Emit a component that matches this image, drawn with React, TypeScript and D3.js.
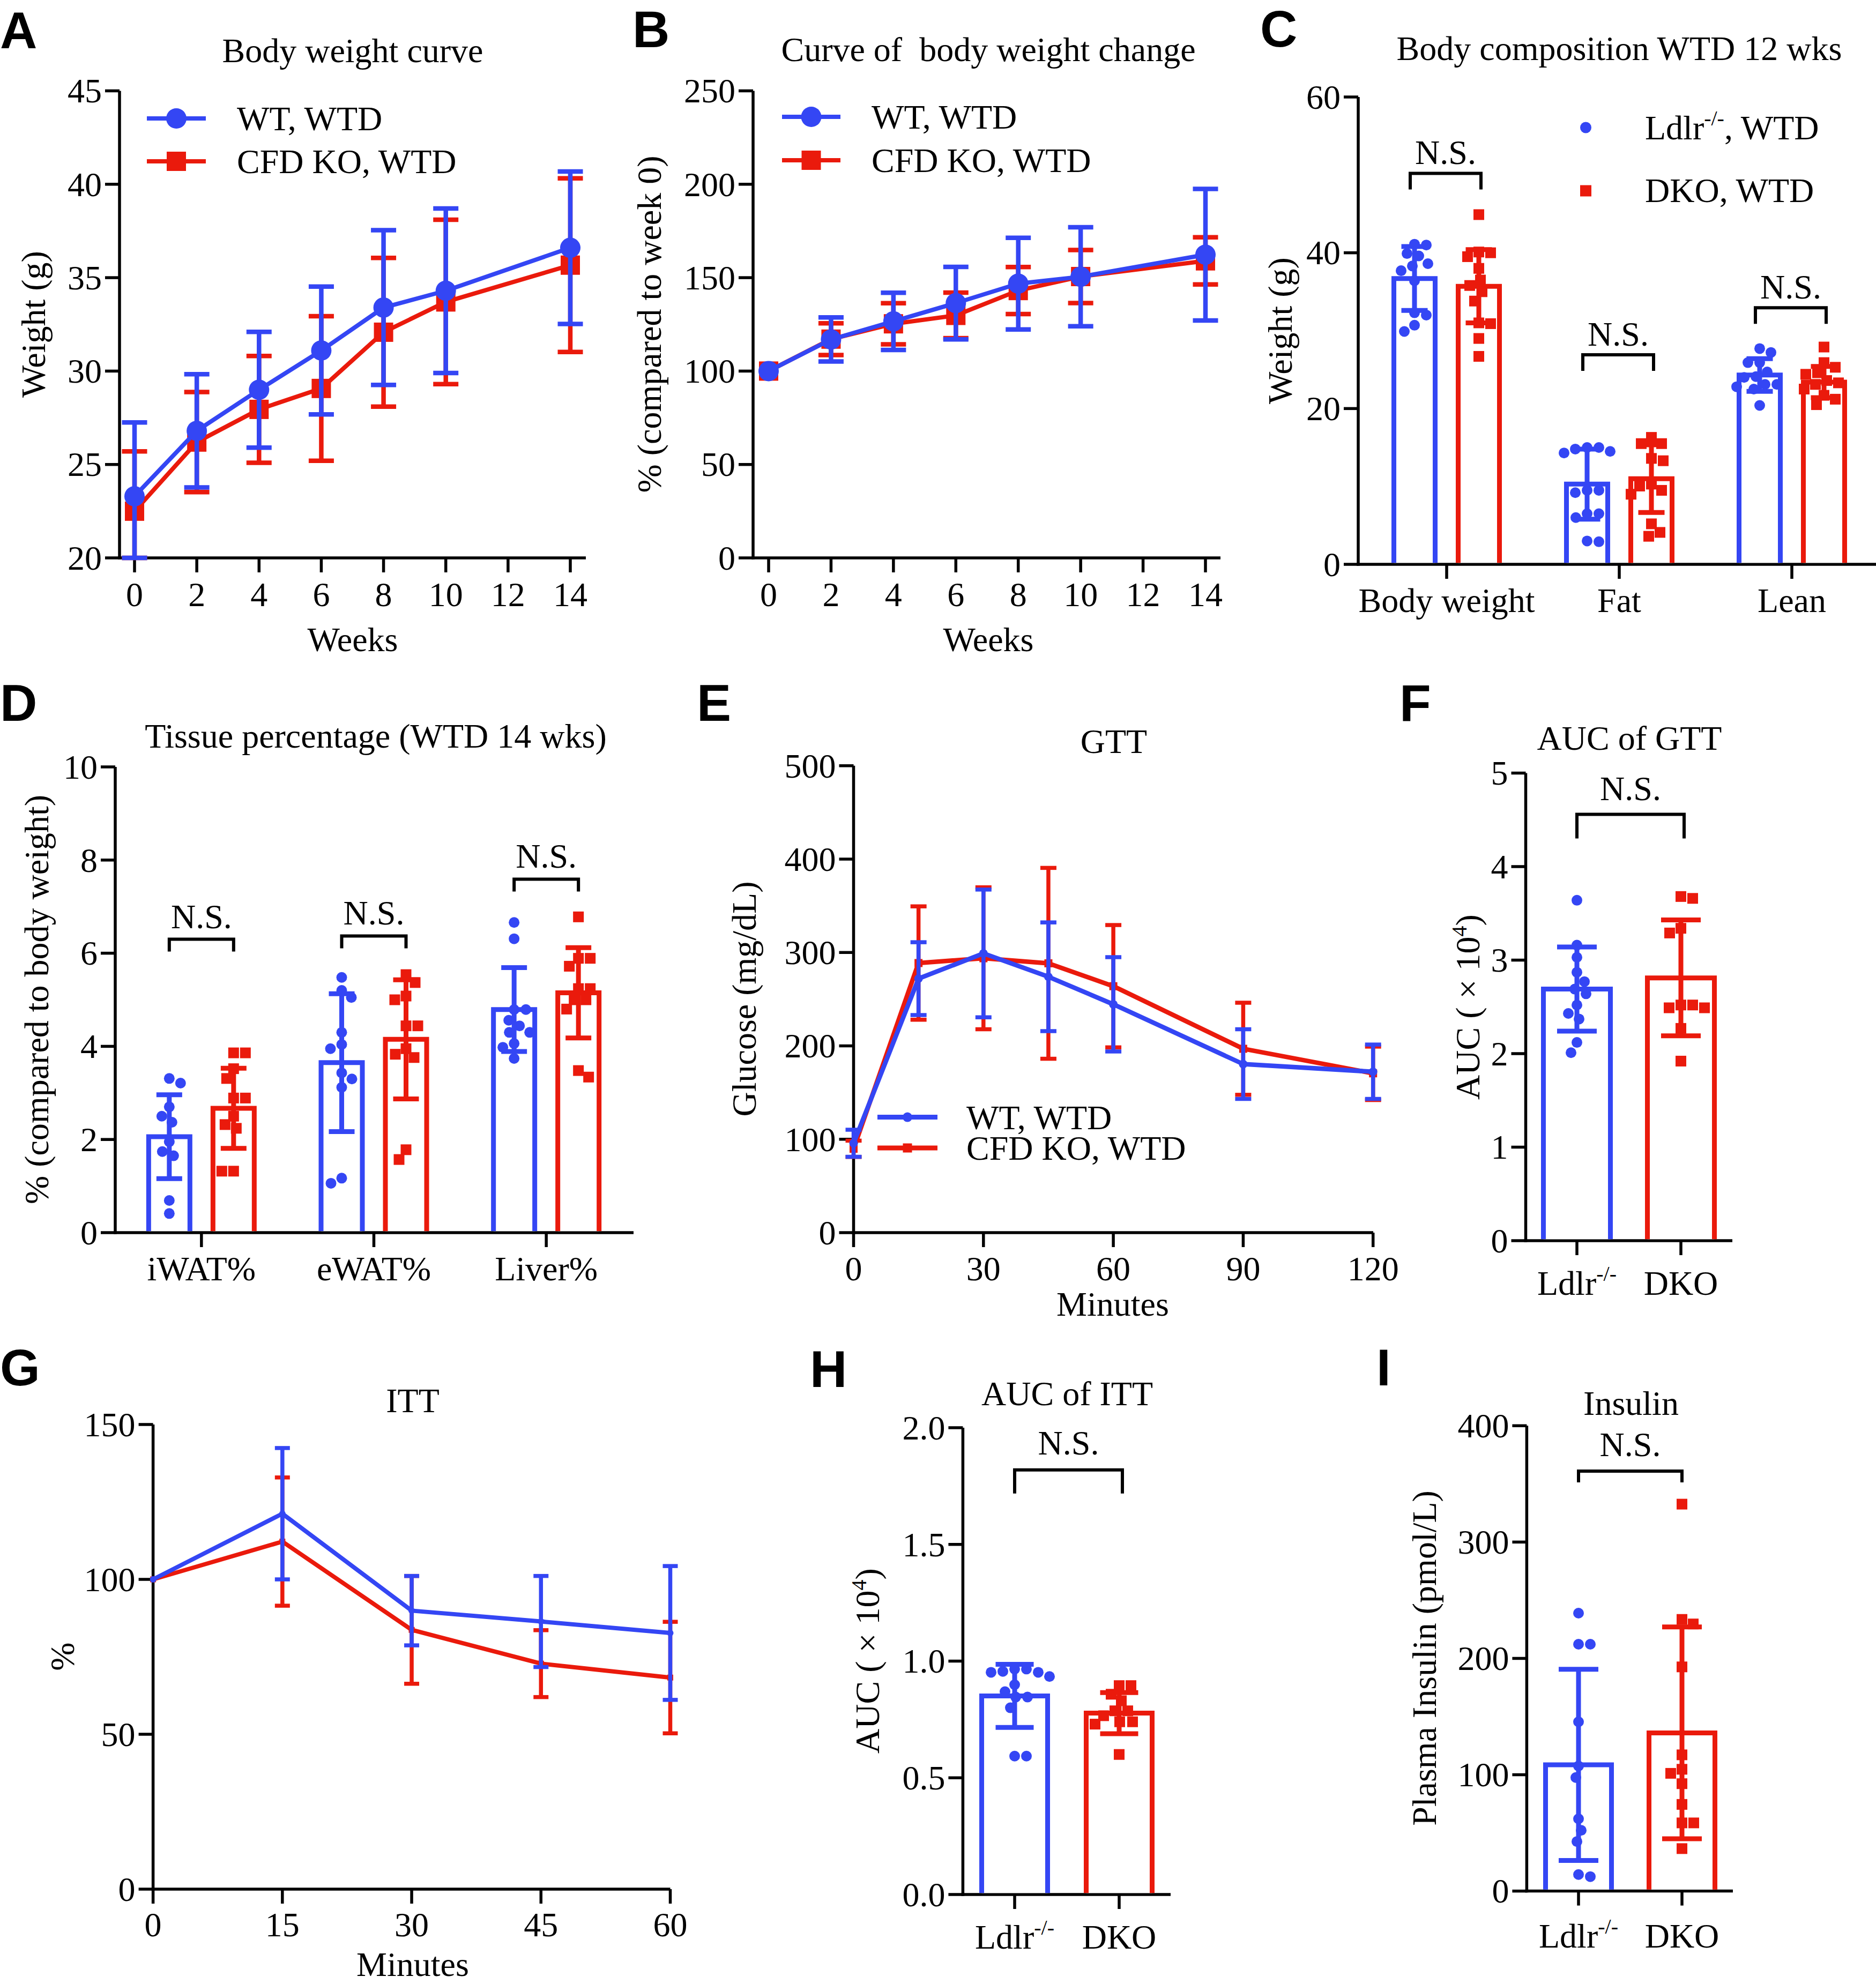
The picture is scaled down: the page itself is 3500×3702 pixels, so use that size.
import React from "react";
import * as d3 from "d3";

const BLUE = "#3446f4";
const RED = "#ea1a0c";
const SERIF = "'Liberation Serif','Times New Roman',Times,serif";
const SANS = "'Liberation Sans',Arial,Helvetica,sans-serif";
const FS = 64;
const AW = 5.5;
const TL = 27;

// ---------------- DATA ----------------
// A: body weight curve
const weeks = [0, 2, 4, 6, 8, 10, 14];
const weekTicks = [0, 2, 4, 6, 8, 10, 12, 14];
const bwWT = [23.3, 26.8, 29.0, 31.1, 33.4, 34.3, 36.6];
const bwWTsd = [3.95, 3.03, 3.1, 3.42, 4.14, 4.4, 4.08];
const bwKO = [22.5, 26.2, 27.95, 29.07, 32.08, 33.7, 35.67];
const bwKOsd = [3.2, 2.68, 2.86, 3.87, 3.98, 4.4, 4.65];
const bwTicks = [20, 25, 30, 35, 40, 45];

// B: % change
const pctWT = [100, 116.9, 126.6, 136.4, 146.8, 150.5, 162.3];
const pctWTsd = [0, 11.8, 15.3, 19.4, 24.5, 26.5, 35.2];
const pctKO = [100, 117.1, 125.3, 129.8, 143.1, 150.6, 159.0];
const pctKOsd = [0, 8.5, 11.0, 12.2, 12.6, 14.2, 12.6];
const pctTicks = [0, 50, 100, 150, 200, 250];

// C: body composition
const compCats = ["Body weight", "Fat", "Lean"];
const compLdlrMean = [36.7, 10.3, 24.3];
const compLdlrSD = [4.1, 4.5, 2.1];
const compDKOMean = [35.7, 11.0, 23.4];
const compDKOSD = [4.7, 4.35, 2.0];
const compLdlrBW = [41.1, 41.0, 39.9, 39.6, 38.6, 38.3, 37.7, 36.4, 32.3, 32.0, 30.7, 29.9];
const compDKOBW = [44.9, 40.1, 40.0, 39.5, 38.0, 36.5, 35.8, 35.0, 33.8, 31.0, 30.9, 29.0, 26.7];
const compLdlrFat = [15.0, 14.8, 15.0, 14.5, 14.3, 9.5, 9.2, 9.5, 6.5, 6.5, 6.0, 2.9, 3.0];
const compDKOFat = [16.3, 15.5, 15.5, 13.6, 13.3, 10.3, 10.05, 9.5, 9.0, 5.2, 4.1, 3.6];
const compLdlrLean = [27.7, 27.2, 25.9, 25.9, 24.7, 24.1, 24.0, 23.1, 23.1, 22.8, 22.5, 20.4];
const compDKOLean = [27.9, 25.9, 25.3, 24.6, 24.4, 23.6, 23.3, 23.1, 22.5, 21.7, 21.2, 20.5];
const compTicks = [0, 20, 40, 60];
const compBracketLevel = [50.2, 26.9, 32.95];

// D: tissue percentage
const tisCats = ["iWAT%", "eWAT%", "Liver%"];
const tisLdlrMean = [2.06, 3.65, 4.79];
const tisLdlrSD = [0.9, 1.48, 0.9];
const tisDKOMean = [2.67, 4.15, 5.15];
const tisDKOSD = [0.86, 1.28, 0.97];
const tisLdlrI = [3.31, 3.21, 2.7, 2.5, 2.37, 1.95, 1.74, 1.65, 0.69, 0.41];
const tisDKOI = [3.86, 3.86, 3.52, 3.31, 2.89, 2.89, 2.5, 2.32, 2.24, 1.32, 1.32];
const tisLdlrE = [5.48, 5.2, 5.05, 4.3, 4.04, 3.95, 3.43, 3.3, 3.12, 1.17, 1.06];
const tisDKOE = [5.54, 5.37, 5.08, 5.0, 4.44, 4.44, 3.95, 3.83, 3.76, 1.78, 1.57];
const tisLdlrL = [6.66, 6.31, 4.79, 4.79, 4.56, 4.44, 4.3, 4.3, 4.06, 3.98, 3.74];
const tisDKOL = [6.78, 5.89, 5.89, 5.72, 5.24, 5.24, 5.0, 5.0, 4.8, 3.48, 3.34];
const tisTicks = [0, 2, 4, 6, 8, 10];
const tisBracketLevel = [6.3, 6.37, 7.59];

// E: GTT
const gttMin = [0, 15, 30, 45, 60, 90, 120];
const gttXTicks = [0, 30, 60, 90, 120];
const gttWT = [95.7, 272, 299, 274, 244.5, 180.5, 172.3];
const gttWTsd = [14.5, 39, 68.4, 58.2, 50.5, 37.3, 29.1];
const gttKO = [89.8, 288.7, 293.8, 288.4, 263.9, 196.9, 170.6];
const gttKOsd = [8.7, 60.7, 76, 102.2, 65.5, 49.3, 28.6];
const gttTicks = [0, 100, 200, 300, 400, 500];

// F: AUC of GTT
const aucGttMean = [2.69, 2.81];
const aucGttSD = [0.45, 0.62];
const aucGttLdlr = [3.64, 3.16, 3.03, 2.87, 2.77, 2.69, 2.64, 2.52, 2.43, 2.37, 2.12, 2.01];
const aucGttDKO = [3.66, 3.68, 3.34, 3.29, 2.52, 2.49, 2.49, 2.52, 2.27, 1.92];
const aucGttTicks = [0, 1, 2, 3, 4, 5];

// G: ITT
const ittMin = [0, 15, 30, 45, 60];
const ittWT = [100, 121.2, 89.9, 86.4, 82.7];
const ittWTsd = [0, 21.2, 11.2, 14.7, 21.6];
const ittKO = [100, 112.2, 83.7, 72.8, 68.3];
const ittKOsd = [0, 20.7, 17.4, 10.8, 18.0];
const ittTicks = [0, 50, 100, 150];

// H: AUC of ITT
const aucIttMean = [0.851, 0.777];
const aucIttSD = [0.135, 0.088];
const aucIttLdlr = [0.966, 0.966, 0.952, 0.952, 0.956, 0.934, 0.899, 0.869, 0.846, 0.846, 0.8, 0.593, 0.593];
const aucIttDKO = [0.895, 0.895, 0.858, 0.83, 0.787, 0.787, 0.766, 0.74, 0.74, 0.73, 0.6];
const aucIttTicks = [0, 0.5, 1.0, 1.5, 2.0];

// I: insulin
const insMean = [108.5, 136];
const insSD = [82.2, 91];
const insLdlr = [238.9, 212.2, 212.2, 145.5, 107.5, 97.6, 62.1, 52.2, 42.6, 12.4, 14.2];
const insDKO = [332.6, 233.5, 229.6, 192.7, 117.1, 104.7, 101.2, 92.3, 74.5, 58.6, 58.6, 36.5];
const insTicks = [0, 100, 200, 300, 400];

// ---------------- helpers ----------------
type Lin = d3.ScaleLinear<number, number>;

function swarm(vals: number[], y: (v: number) => number, r: number): number[] {
  const order = vals.map((_, i) => i).sort((a, b) => vals[b] - vals[a]);
  const placed: [number, number][] = [];
  const dx = new Array(vals.length).fill(0);
  const minD = 2 * r + 2;
  let side = 1;
  for (const i of order) {
    const py = y(vals[i]);
    let found = 0;
    for (let k = 0; k < 400; k++) {
      const cands = k === 0 ? [0] : [side * k, -side * k];
      let ok: number | null = null;
      for (const c of cands) {
        if (placed.every(([qx, qy]) => (qx - c) ** 2 + (qy - py) ** 2 >= minD * minD)) {
          ok = c;
          break;
        }
      }
      if (ok !== null) {
        found = ok;
        break;
      }
    }
    if (found !== 0) side = -Math.sign(found);
    placed.push([found, py]);
    dx[i] = found;
  }
  return dx;
}

function Marker({ kind, cx, cy, r, sq, color }: any) {
  return kind === "circle" ? (
    <circle cx={cx} cy={cy} r={r} fill={color} />
  ) : (
    <rect x={cx - sq / 2} y={cy - sq / 2} width={sq} height={sq} fill={color} />
  );
}

function YAxis({ ax, y, ticks, fmt }: { ax: number; y: Lin; ticks: number[]; fmt?: (v: number) => string }) {
  const [b, t] = y.range();
  const f = fmt || ((v: number) => String(v));
  return (
    <g>
      <line x1={ax} x2={ax} y1={b + AW / 2} y2={t} stroke="#000" strokeWidth={AW} />
      {ticks.map((v) => (
        <line key={"t" + v} x1={ax - TL} x2={ax} y1={y(v)} y2={y(v)} stroke="#000" strokeWidth={AW} />
      ))}
      {ticks.map((v) => (
        <text key={"l" + v} x={ax - TL - 6} y={y(v)} dy="0.34em" textAnchor="end" fontSize={FS}>
          {f(v)}
        </text>
      ))}
    </g>
  );
}

function XAxis({ ax, xEnd, y0, pos, labels, labelY }: any) {
  return (
    <g>
      <line x1={ax - AW / 2} x2={xEnd} y1={y0} y2={y0} stroke="#000" strokeWidth={AW} />
      {pos.map((p: number, i: number) => (
        <line key={"t" + i} x1={p} x2={p} y1={y0} y2={y0 + TL} stroke="#000" strokeWidth={AW} />
      ))}
      {pos.map((p: number, i: number) => (
        <text key={"l" + i} x={p} y={labelY} textAnchor="middle" fontSize={FS}>
          {labels[i]}
        </text>
      ))}
    </g>
  );
}

function YLabel({ xb, yc, children }: any) {
  return (
    <text transform={`translate(${xb},${yc}) rotate(-90)`} textAnchor="middle" fontSize={FS}>
      {children}
    </text>
  );
}

function Title({ x, y, children }: any) {
  return (
    <text x={x} y={y} textAnchor="middle" fontSize={FS} style={{ whiteSpace: "pre" }}>
      {children}
    </text>
  );
}

function Letter({ x, y, t }: any) {
  return (
    <text x={x} y={y} fontFamily={SANS} fontWeight="bold" fontSize={96}>
      {t}
    </text>
  );
}

function LineSeries({ xs, mean, sd, color, marker, x, y, lineW, errW, capW, r, sq }: any) {
  const yMin = y.domain()[0];
  const pts: [number, number][] = xs.map((t: number, i: number) => [x(t), y(mean[i])]);
  const path = d3.line()(pts) || "";
  return (
    <g>
      {xs.map((t: number, i: number) => {
        if (!(sd[i] > 0)) return null;
        const cx = x(t);
        const hi = y(mean[i] + sd[i]);
        const lo = y(Math.max(mean[i] - sd[i], yMin));
        return (
          <g key={i} stroke={color} strokeWidth={errW}>
            <line x1={cx} x2={cx} y1={hi} y2={lo} />
            <line x1={cx - capW / 2} x2={cx + capW / 2} y1={hi} y2={hi} />
            <line x1={cx - capW / 2} x2={cx + capW / 2} y1={lo} y2={lo} />
          </g>
        );
      })}
      <path d={path} fill="none" stroke={color} strokeWidth={lineW} strokeLinejoin="round" />
      {pts.map(([px, py], i) => (
        <Marker key={i} kind={marker} cx={px} cy={py} r={r} sq={sq} color={color} />
      ))}
    </g>
  );
}

function LineLegend({ x1, x2, ys, textX, items, lineW, r, sq }: any) {
  const mx = (x1 + x2) / 2;
  return (
    <g>
      {items.map((it: any, i: number) => (
        <g key={i}>
          <line x1={x1} x2={x2} y1={ys[i]} y2={ys[i]} stroke={it.color} strokeWidth={lineW} />
          <Marker kind={it.marker} cx={mx} cy={ys[i]} r={r} sq={sq} color={it.color} />
          <text x={textX} y={ys[i] + 22} fontSize={FS}>
            {it.label}
          </text>
        </g>
      ))}
    </g>
  );
}

function BarGroup({ cx, mean, sd, pts, color, marker, y, barW, capW, r, sq }: any) {
  const y0 = y(0) - AW / 2;
  const top = y(mean);
  const dx = swarm(pts, y, r);
  const hi = y(mean + sd);
  const lo = y(mean - sd);
  return (
    <g>
      <path
        d={`M${cx - barW / 2},${y0}V${top}H${cx + barW / 2}V${y0}`}
        fill="#fff"
        stroke={color}
        strokeWidth={9}
      />
      {pts.map((v: number, i: number) => (
        <Marker key={i} kind={marker} cx={cx + dx[i]} cy={y(v)} r={r} sq={sq} color={color} />
      ))}
      <g stroke={color} strokeWidth={9}>
        <line x1={cx} x2={cx} y1={hi} y2={lo} />
        <line x1={cx - capW / 2} x2={cx + capW / 2} y1={hi} y2={hi} />
        <line x1={cx - capW / 2} x2={cx + capW / 2} y1={lo} y2={lo} />
      </g>
    </g>
  );
}

function Bracket({ x1, x2, yb, leg, gap }: any) {
  return (
    <g>
      <path d={`M${x1},${yb + leg}V${yb}H${x2}V${yb + leg}`} fill="none" stroke="#000" strokeWidth={6} />
      <text x={(x1 + x2) / 2} y={yb - gap} textAnchor="middle" fontSize={FS}>
        N.S.
      </text>
    </g>
  );
}

const Ldlr = ({ suffix }: { suffix?: string }) => (
  <>
    Ldlr
    <tspan dy={-26} fontSize={40}>
      -/-
    </tspan>
    {suffix ? (
      <tspan dy={26} fontSize={FS}>
        {suffix}
      </tspan>
    ) : null}
  </>
);

const AucLabel = () => (
  <>
    AUC ( × 10
    <tspan dy={-24} fontSize={40}>
      4
    </tspan>
    <tspan dy={24}>)</tspan>
  </>
);

const lineItems = [
  { label: "WT, WTD", color: BLUE, marker: "circle" },
  { label: "CFD KO, WTD", color: RED, marker: "square" },
];

// ---------------- panels ----------------
function PanelA() {
  const x = d3.scaleLinear().domain([0, 14]).range([251, 1064]);
  const y = d3.scaleLinear().domain([20, 45]).range([1041, 169.5]);
  const common = { x, y, lineW: 8, errW: 8.5, capW: 47, r: 19, sq: 36 };
  return (
    <g>
      <Letter x={0} y={90} t="A" />
      <Title x={658} y={116}>Body weight curve</Title>
      <YAxis ax={223} y={y} ticks={bwTicks} />
      <XAxis ax={223} xEnd={1093} y0={1041} pos={weekTicks.map((t) => x(t))} labels={weekTicks} labelY={1131} />
      <LineSeries xs={weeks} mean={bwKO} sd={bwKOsd} color={RED} marker="square" {...common} />
      <LineSeries xs={weeks} mean={bwWT} sd={bwWTsd} color={BLUE} marker="circle" {...common} />
      <LineLegend x1={274} x2={384} ys={[221, 301]} textX={442} items={lineItems} lineW={8} r={19} sq={36} />
      <Title x={658} y={1215}>Weeks</Title>
      <YLabel xb={84} yc={605}>Weight (g)</YLabel>
    </g>
  );
}

function PanelB() {
  const x = d3.scaleLinear().domain([0, 14]).range([1434, 2249]);
  const y = d3.scaleLinear().domain([0, 250]).range([1041, 169.5]);
  const common = { x, y, lineW: 8, errW: 8.5, capW: 47, r: 19, sq: 36 };
  return (
    <g>
      <Letter x={1180} y={88} t="B" />
      <Title x={1844} y={114}>{"Curve of  body weight change"}</Title>
      <YAxis ax={1405} y={y} ticks={pctTicks} />
      <XAxis ax={1405} xEnd={2277} y0={1041} pos={weekTicks.map((t) => x(t))} labels={weekTicks} labelY={1131} />
      <LineSeries xs={weeks} mean={pctKO} sd={pctKOsd} color={RED} marker="square" {...common} />
      <LineSeries xs={weeks} mean={pctWT} sd={pctWTsd} color={BLUE} marker="circle" {...common} />
      <LineLegend x1={1459} x2={1568} ys={[218, 299]} textX={1626} items={lineItems} lineW={8} r={19} sq={36} />
      <Title x={1844} y={1215}>Weeks</Title>
      <YLabel xb={1233} yc={605}>% (compared to week 0)</YLabel>
    </g>
  );
}

function PanelC() {
  const y = d3.scaleLinear().domain([0, 60]).range([1053, 181]);
  const band = d3.scaleBand<string>().domain(compCats).range([2538, 3504]);
  const cc = (c: string) => (band(c) || 0) + band.bandwidth() / 2;
  const off = d3.scaleOrdinal<string, number>().domain(["Ldlr", "DKO"]).range([-60, 60]);
  const ldlrPts = [compLdlrBW, compLdlrFat, compLdlrLean];
  const dkoPts = [compDKOBW, compDKOFat, compDKOLean];
  const common = { y, barW: 77, capW: 49, r: 10, sq: 20 };
  return (
    <g>
      <Letter x={2351} y={87} t="C" />
      <Title x={3021} y={112}>Body composition WTD 12 wks</Title>
      <YAxis ax={2534} y={y} ticks={compTicks} />
      <XAxis ax={2534} xEnd={3500} y0={1053} pos={compCats.map(cc)} labels={compCats} labelY={1142} />
      {compCats.map((c, i) => (
        <g key={c}>
          <BarGroup cx={cc(c) + off("Ldlr")} mean={compLdlrMean[i]} sd={compLdlrSD[i]} pts={ldlrPts[i]} color={BLUE} marker="circle" {...common} />
          <BarGroup cx={cc(c) + off("DKO")} mean={compDKOMean[i]} sd={compDKOSD[i]} pts={dkoPts[i]} color={RED} marker="square" {...common} />
          <Bracket x1={cc(c) + off("Ldlr") - 8} x2={cc(c) + off("DKO") + 4} yb={y(compBracketLevel[i])} leg={30} gap={17} />
        </g>
      ))}
      <circle cx={2958.5} cy={238} r={10.5} fill={BLUE} />
      <rect x={2948} y={345.5} width={21} height={21} fill={RED} />
      <text x={3069} y={260} fontSize={FS}>
        <Ldlr suffix=", WTD" />
      </text>
      <text x={3069} y={377} fontSize={FS}>
        DKO, WTD
      </text>
      <YLabel xb={2410} yc={617}>Weight (g)</YLabel>
    </g>
  );
}

function PanelD() {
  const y = d3.scaleLinear().domain([0, 10]).range([2300, 1431]);
  const band = d3.scaleBand<string>().domain(tisCats).range([215, 1180]);
  const cc = (c: string) => (band(c) || 0) + band.bandwidth() / 2;
  const off = d3.scaleOrdinal<string, number>().domain(["Ldlr", "DKO"]).range([-60, 60]);
  const ldlrPts = [tisLdlrI, tisLdlrE, tisLdlrL];
  const dkoPts = [tisDKOI, tisDKOE, tisDKOL];
  const common = { y, barW: 77, capW: 48, r: 10, sq: 20 };
  return (
    <g>
      <Letter x={0} y={1345} t="D" />
      <Title x={701} y={1395}>Tissue percentage (WTD 14 wks)</Title>
      <YAxis ax={215} y={y} ticks={tisTicks} />
      <XAxis ax={215} xEnd={1182} y0={2300} pos={tisCats.map(cc)} labels={tisCats} labelY={2389} />
      {tisCats.map((c, i) => (
        <g key={c}>
          <BarGroup cx={cc(c) + off("Ldlr")} mean={tisLdlrMean[i]} sd={tisLdlrSD[i]} pts={ldlrPts[i]} color={BLUE} marker="circle" {...common} />
          <BarGroup cx={cc(c) + off("DKO")} mean={tisDKOMean[i]} sd={tisDKOSD[i]} pts={dkoPts[i]} color={RED} marker="square" {...common} />
          <Bracket x1={cc(c) + off("Ldlr")} x2={cc(c) + off("DKO")} yb={y(tisBracketLevel[i])} leg={23} gap={21} />
        </g>
      ))}
      <YLabel xb={90} yc={1865}>% (compared to body weight)</YLabel>
    </g>
  );
}

function PanelE() {
  const x = d3.scaleLinear().domain([0, 120]).range([1592.5, 2561.7]);
  const y = d3.scaleLinear().domain([0, 500]).range([2300, 1428.8]);
  const common = { x, y, lineW: 8.5, errW: 7.5, capW: 30, r: 8, sq: 15 };
  return (
    <g>
      <Letter x={1300} y={1345} t="E" />
      <Title x={2078} y={1405}>GTT</Title>
      <YAxis ax={1592.5} y={y} ticks={gttTicks} />
      <XAxis ax={1592.5} xEnd={2562} y0={2300} pos={gttXTicks.map((t) => x(t))} labels={gttXTicks} labelY={2389} />
      <LineSeries xs={gttMin} mean={gttKO} sd={gttKOsd} color={RED} marker="square" {...common} />
      <LineSeries xs={gttMin} mean={gttWT} sd={gttWTsd} color={BLUE} marker="circle" {...common} />
      <LineLegend x1={1637} x2={1749} ys={[2084.6, 2142]} textX={1803} items={lineItems} lineW={9} r={9} sq={17} />
      <Title x={2076} y={2455}>Minutes</Title>
      <YLabel xb={1410} yc={1864}>Glucose (mg/dL)</YLabel>
    </g>
  );
}

function PanelF() {
  const y = d3.scaleLinear().domain([0, 5]).range([2315, 1442.5]);
  const x = d3.scalePoint<string>().domain(["Ldlr", "DKO"]).range([2942, 3136]);
  const common = { y, barW: 125, capW: 74, r: 10, sq: 20 };
  return (
    <g>
      <Letter x={2611} y={1345} t="F" />
      <Title x={3040} y={1399}>AUC of GTT</Title>
      <YAxis ax={2846.5} y={y} ticks={aucGttTicks} />
      <XAxis ax={2846.5} xEnd={3232} y0={2315} pos={[x("Ldlr"), x("DKO")]} labels={[<Ldlr key="l" />, "DKO"]} labelY={2416} />
      <BarGroup cx={x("Ldlr")} mean={aucGttMean[0]} sd={aucGttSD[0]} pts={aucGttLdlr} color={BLUE} marker="circle" {...common} />
      <BarGroup cx={x("DKO")} mean={aucGttMean[1]} sd={aucGttSD[1]} pts={aucGttDKO} color={RED} marker="square" {...common} />
      <Bracket x1={x("Ldlr")} x2={(x("DKO") || 0) + 6} yb={1519.6} leg={45} gap={27} />
      <YLabel xb={2760} yc={1879}>
        <AucLabel />
      </YLabel>
    </g>
  );
}

function PanelG() {
  const x = d3.scaleLinear().domain([0, 60]).range([285.6, 1250.5]);
  const y = d3.scaleLinear().domain([0, 150]).range([3525, 2658]);
  const common = { x, y, lineW: 8, errW: 7.5, capW: 28, r: 6, sq: 11 };
  return (
    <g>
      <Letter x={0} y={2585} t="G" />
      <Title x={770} y={2635}>ITT</Title>
      <YAxis ax={285.6} y={y} ticks={ittTicks} />
      <XAxis ax={285.6} xEnd={1250.5} y0={3525} pos={ittMin.map((t) => x(t))} labels={ittMin} labelY={3613} />
      <LineSeries xs={ittMin} mean={ittKO} sd={ittKOsd} color={RED} marker="square" {...common} />
      <LineSeries xs={ittMin} mean={ittWT} sd={ittWTsd} color={BLUE} marker="circle" {...common} />
      <Title x={770} y={3687}>Minutes</Title>
      <YLabel xb={138} yc={3091}>%</YLabel>
    </g>
  );
}

function PanelH() {
  const y = d3.scaleLinear().domain([0, 2]).range([3535, 2664]);
  const x = d3.scalePoint<string>().domain(["Ldlr", "DKO"]).range([1893, 2088]);
  const common = { y, barW: 123, capW: 71, r: 10, sq: 20 };
  return (
    <g>
      <Letter x={1511} y={2588} t="H" />
      <Title x={1991} y={2622}>AUC of ITT</Title>
      <YAxis ax={1796.4} y={y} ticks={aucIttTicks} fmt={d3.format(".1f")} />
      <XAxis ax={1796.4} xEnd={2184} y0={3535} pos={[x("Ldlr"), x("DKO")]} labels={[<Ldlr key="l" />, "DKO"]} labelY={3636} />
      <BarGroup cx={x("Ldlr")} mean={aucIttMean[0]} sd={aucIttSD[0]} pts={aucIttLdlr} color={BLUE} marker="circle" {...common} />
      <BarGroup cx={x("DKO")} mean={aucIttMean[1]} sd={aucIttSD[1]} pts={aucIttDKO} color={RED} marker="square" {...common} />
      <Bracket x1={x("Ldlr")} x2={(x("DKO") || 0) + 6} yb={2742.7} leg={44} gap={29} />
      <YLabel xb={1640} yc={3099}>
        <AucLabel />
      </YLabel>
    </g>
  );
}

function PanelI() {
  const y = d3.scaleLinear().domain([0, 400]).range([3528.6, 2660.3]);
  const x = d3.scalePoint<string>().domain(["Ldlr", "DKO"]).range([2945, 3138]);
  const common = { y, barW: 123, capW: 74, r: 10, sq: 20 };
  return (
    <g>
      <Letter x={2568} y={2585} t="I" />
      <Title x={3043} y={2640}>Insulin</Title>
      <YAxis ax={2848.4} y={y} ticks={insTicks} />
      <XAxis ax={2848.4} xEnd={3233} y0={3528.6} pos={[x("Ldlr"), x("DKO")]} labels={[<Ldlr key="l" />, "DKO"]} labelY={3634} />
      <BarGroup cx={x("Ldlr")} mean={insMean[0]} sd={insSD[0]} pts={insLdlr} color={BLUE} marker="circle" {...common} />
      <BarGroup cx={x("DKO")} mean={insMean[1]} sd={insSD[1]} pts={insDKO} color={RED} marker="square" {...common} />
      <Bracket x1={x("Ldlr")} x2={x("DKO")} yb={2745} leg={21} gap={28} />
      <YLabel xb={2679} yc={3094}>Plasma Insulin (pmol/L)</YLabel>
    </g>
  );
}

export default function App() {
  return (
    <>
      <style>{`html,body{margin:0;padding:0;background:#fff}`}</style>
      <svg
        width={3500}
        height={3702}
        viewBox="0 0 3500 3702"
        style={{ display: "block", background: "#fff" }}
        fontFamily={SERIF}
        fill="#000"
      >
        <rect width={3500} height={3702} fill="#fff" />
        <PanelA />
        <PanelB />
        <PanelC />
        <PanelD />
        <PanelE />
        <PanelF />
        <PanelG />
        <PanelH />
        <PanelI />
      </svg>
    </>
  );
}
